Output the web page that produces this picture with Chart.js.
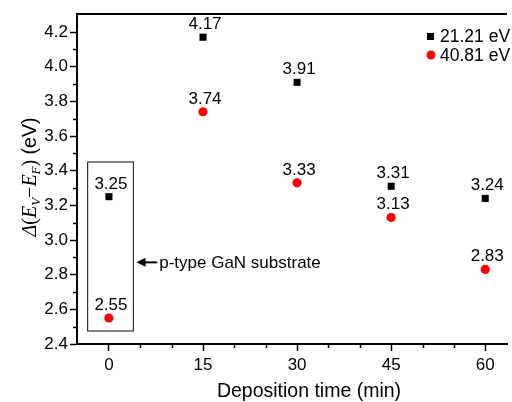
<!DOCTYPE html>
<html>
<head>
<meta charset="utf-8">
<script src="https://cdn.jsdelivr.net/npm/chart.js@4.4.0/dist/chart.umd.min.js"></script>
<style>
html, body { margin: 0; padding: 0; background: #fff; }
#wrap { width: 512px; height: 402px; position: relative; }
</style>
</head>
<body>
<div id="wrap"><canvas id="c"></canvas></div>
<script>
/* Data */
var times      = [0, 15, 30, 45, 60];
var vals2121   = [3.25, 4.17, 3.91, 3.31, 3.24];
var vals4081   = [2.55, 3.74, 3.33, 3.13, 2.83];
var seriesName = ['21.21 eV', '40.81 eV'];
var xTicks     = [0, 15, 30, 45, 60];
var xMinor     = [5, 10, 20, 25, 35, 40, 50, 55];
var yTicks     = [2.4, 2.6, 2.8, 3.0, 3.2, 3.4, 3.6, 3.8, 4.0, 4.2];
var yMinor     = [2.5, 2.7, 2.9, 3.1, 3.3, 3.5, 3.7, 3.9, 4.1];
var noteText   = 'p-type GaN substrate';
var xTitle     = 'Deposition time (min)';

var SANS = '"Liberation Sans", Arial, sans-serif';
var SERIF = '"Liberation Serif", "Times New Roman", serif';

function pts(ys) {
    return times.map(function(t, i) { return { x: t, y: ys[i] }; });
}

/* ── Extra drawing: frame top, minor ticks, labels, box, arrow, legend, titles ── */
var extras = {
    id: 'extras',
    afterDraw: function(chart) {
        var ctx = chart.ctx, a = chart.chartArea;
        var sx = chart.scales.x, sy = chart.scales.y;
        ctx.save();

        // top frame line
        ctx.strokeStyle = '#000'; ctx.lineWidth = 2;
        ctx.beginPath(); ctx.moveTo(a.left - 1, a.top); ctx.lineTo(a.right, a.top); ctx.stroke();

        // minor ticks
        ctx.lineWidth = 1.5;
        ctx.beginPath();
        xMinor.forEach(function(v) {
            var px = Math.round(sx.getPixelForValue(v)) + 0.5;
            ctx.moveTo(px, a.bottom); ctx.lineTo(px, a.bottom + 4);
        });
        yMinor.forEach(function(v) {
            var py = Math.round(sy.getPixelForValue(v)) + 0.5;
            ctx.moveTo(a.left, py); ctx.lineTo(a.left - 4, py);
        });
        ctx.stroke();

        // value labels
        ctx.fillStyle = '#000';
        ctx.font = '17px ' + SANS;
        ctx.textAlign = 'center'; ctx.textBaseline = 'alphabetic';
        [vals2121, vals4081].forEach(function(ys) {
            ys.forEach(function(v, i) {
                ctx.fillText(v.toFixed(2), sx.getPixelForValue(times[i]) + 2, sy.getPixelForValue(v) - 8);
            });
        });

        // substrate box
        var bx0 = sx.getPixelForValue(-3.4), bx1 = sx.getPixelForValue(3.9);
        var by0 = sy.getPixelForValue(3.45), by1 = sy.getPixelForValue(2.475);
        ctx.strokeStyle = '#333'; ctx.lineWidth = 1.2;
        ctx.strokeRect(bx0, by0, bx1 - bx0, by1 - by0);

        // arrow + note
        var ay = sy.getPixelForValue(2.871);
        var ax0 = sx.getPixelForValue(4.4), ax1 = sx.getPixelForValue(7.7);
        ctx.strokeStyle = '#000'; ctx.lineWidth = 2;
        ctx.beginPath(); ctx.moveTo(ax0 + 6, ay); ctx.lineTo(ax1, ay); ctx.stroke();
        ctx.beginPath();
        ctx.moveTo(ax0, ay); ctx.lineTo(ax0 + 9, ay - 4.5); ctx.lineTo(ax0 + 9, ay + 4.5);
        ctx.closePath(); ctx.fill();
        ctx.textAlign = 'left'; ctx.textBaseline = 'middle';
        ctx.font = '17px ' + SANS;
        ctx.fillText(noteText, ax1 + 2, ay + 1);

        // legend
        ctx.font = '17.5px ' + SANS;
        ctx.fillRect(427, 33, 7, 7);
        ctx.fillText(seriesName[0], 440, 37);
        ctx.fillStyle = '#ff0000';
        ctx.beginPath(); ctx.arc(431, 55, 4.5, 0, Math.PI * 2); ctx.fill();
        ctx.fillStyle = '#000';
        ctx.fillText(seriesName[1], 440, 56);

        // x axis title
        ctx.font = '19.5px ' + SANS;
        ctx.textAlign = 'center'; ctx.textBaseline = 'alphabetic';
        ctx.fillText(xTitle, 309, 397);

        // y axis title: Δ(E_V − E_F) (eV)
        var parts = [
            { t: 'Δ', f: 'italic 20px ' + SERIF, dy: 0 },
            { t: '(', f: '20px ' + SERIF, dy: 0 },
            { t: 'E', f: 'italic 20px ' + SERIF, dy: 0 },
            { t: 'V', f: 'italic 13px ' + SERIF, dy: 4 },
            { t: '\u2212', f: '20px ' + SERIF, dy: 0 },
            { t: 'E', f: 'italic 20px ' + SERIF, dy: 0 },
            { t: 'F', f: 'italic 13px ' + SERIF, dy: 4 },
            { t: ')', f: '20px ' + SERIF, dy: 0 },
            { t: ' (eV)', f: '19.5px ' + SANS, dy: 0 }
        ];
        var total = 0;
        parts.forEach(function(p) { ctx.font = p.f; p.w = ctx.measureText(p.t).width; total += p.w; });
        ctx.translate(36, 177);
        ctx.rotate(-Math.PI / 2);
        ctx.textAlign = 'left'; ctx.textBaseline = 'alphabetic';
        var cx = -total / 2;
        parts.forEach(function(p) {
            ctx.font = p.f;
            ctx.fillText(p.t, cx, p.dy);
            cx += p.w;
        });
        ctx.restore();
    }
};

new Chart(document.getElementById('c'), {
    type: 'scatter',
    data: {
        datasets: [
            { label: seriesName[0], data: pts(vals2121), pointStyle: 'rect', pointRadius: 5,
              backgroundColor: '#000', borderColor: '#000', pointBorderWidth: 0 },
            { label: seriesName[1], data: pts(vals4081), pointStyle: 'circle', pointRadius: 4.6,
              backgroundColor: '#ff0000', borderColor: '#ff0000', pointBorderWidth: 0 }
        ]
    },
    options: {
        responsive: true, maintainAspectRatio: false, animation: false,
        layout: { padding: { top: 14, right: 0, left: 0, bottom: 0 } },
        plugins: { legend: { display: false }, tooltip: { enabled: false } },
        scales: {
            x: {
                type: 'linear', min: -5.09, max: 63.47,
                afterBuildTicks: function(s) { s.ticks = xTicks.map(function(v) { return { value: v }; }); },
                afterFit: function(s) { s.height = 58; },
                grid: { drawOnChartArea: false, tickLength: 7, tickColor: '#000', tickWidth: 1.5 },
                border: { color: '#000', width: 2 },
                ticks: { color: '#000', font: { family: SANS, size: 17 }, padding: 4, maxRotation: 0 }
            },
            y: {
                min: 2.4, max: 4.304,
                afterBuildTicks: function(s) { s.ticks = yTicks.map(function(v) { return { value: v }; }); },
                afterFit: function(s) { s.width = 77; },
                grid: { drawOnChartArea: false, tickLength: 7, tickColor: '#000', tickWidth: 1.5 },
                border: { color: '#000', width: 2 },
                ticks: { color: '#000', font: { family: SANS, size: 17 }, padding: 2,
                         callback: function(v) { return v.toFixed(1); } }
            }
        }
    },
    plugins: [extras]
});
</script>
</body>
</html>
